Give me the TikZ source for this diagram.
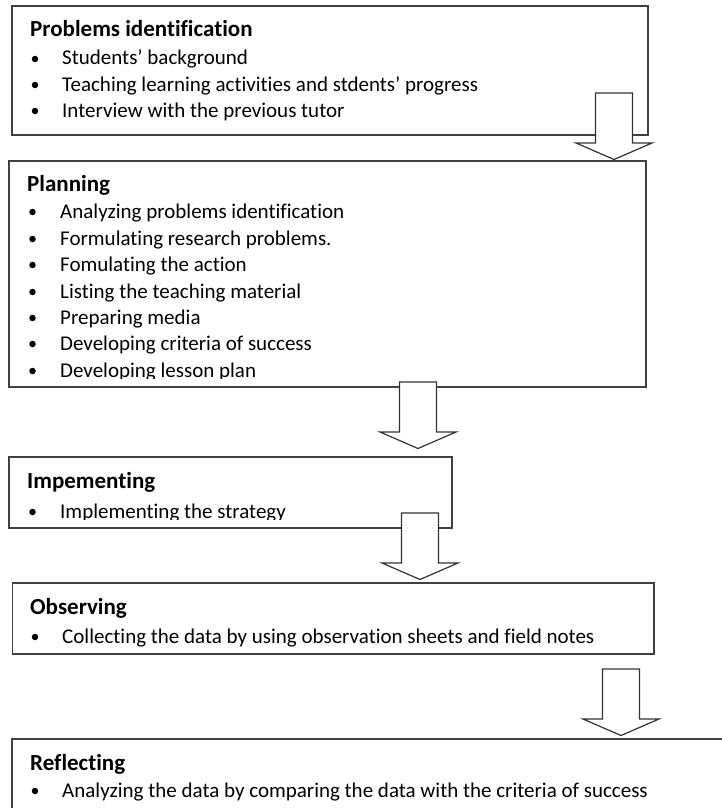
\documentclass[tikz,border=0pt]{standalone}
\usepackage{fontspec}
\setmainfont{Carlito}[Ligatures=NoCommon]
\tikzset{
  box/.style={draw=black!75, line width=1.2pt},
  ttl/.style={anchor=base west, inner sep=0pt, font=\fontsize{23}{28}\selectfont\bfseries},
  itm/.style={anchor=base west, inner sep=0pt, font=\fontsize{21}{26}\selectfont},
  dot/.style={circle, fill=black, inner sep=0pt, minimum size=6.5pt},
  arr/.style={draw=black!80, fill=white, line width=1.2pt, line join=miter},
}
\newcommand{\flowarrow}[1]{%
  \draw[arr] (#1) ++(-18.5,0) -- ++(0,50) -- ++(-19.5,0) -- ++(38,16.5)
    -- ++(38,-16.5) -- ++(-19.5,0) -- ++(0,-50) -- cycle;}
\begin{document}
\begin{tikzpicture}[x=1pt,y=-1pt]
\path[use as bounding box] (0,0) rectangle (722,808);
\clip (0,0) rectangle (722,808);

\draw [box] (12,6) rectangle (648,135);
\node[ttl] (prob) at (30,37) {Problems identification};
\node[dot] (prob1d) at (35,59) {};
\node[itm] (prob1) at (62,65) {Students’ background};
\node[dot] (prob2d) at (35,85) {};
\node[itm] (prob2) at (62,91) {Teaching learning activities and stdents’ progress};
\node[dot] (prob3d) at (35,111) {};
\node[itm] (prob3) at (62,117) {Interview with the previous tutor};

\draw [box] (9,161) rectangle (646,387);
\begin{scope}
\clip (9,161) rectangle (646,378);
\node[ttl] (plan) at (27,191) {Planning};
\node[dot] (plan1d) at (32.5,212) {};
\node[itm] (plan1) at (60,218) {Analyzing problems identification};
\node[dot] (plan2d) at (32.5,239) {};
\node[itm] (plan2) at (60,245) {Formulating research problems.};
\node[dot] (plan3d) at (32.5,265) {};
\node[itm] (plan3) at (60,271) {Fomulating the action};
\node[dot] (plan4d) at (32.5,292) {};
\node[itm] (plan4) at (60,298) {Listing the teaching material};
\node[dot] (plan5d) at (32.5,318) {};
\node[itm] (plan5) at (60,324) {Preparing media};
\node[dot] (plan6d) at (32.5,344) {};
\node[itm] (plan6) at (60,350) {Developing criteria of success};
\node[dot] (plan7d) at (32.5,371) {};
\node[itm] (plan7) at (60,377) {Developing lesson plan};
\end{scope}

\draw [box] (9,457) rectangle (452,528);
\begin{scope}
\clip (9,457) rectangle (452,519);
\node[ttl] (impl) at (27,488) {Impementing};
\node[dot] (impl1d) at (32.5,512) {};
\node[itm] (impl1) at (60,518) {Implementing the strategy};
\end{scope}

\draw [box] (12.7,583) rectangle (654,654);
\node[ttl] (obs) at (30,614.5) {Observing};
\node[dot] (obs1d) at (35,637) {};
\node[itm] (obs1) at (62,643) {Collecting the data by using observation sheets and field notes};

\draw [box] (12,739) rectangle (740,830);
\node[ttl] (refl) at (30,770) {Reflecting};
\node[dot] (refl1d) at (35,791) {};
\node[itm] (refl1) at (62,797) {Analyzing the data by comparing the data with the criteria of success};

\coordinate (a1) at (614,93);
\coordinate (a2) at (418,382);
\coordinate (a3) at (420,513);
\coordinate (a4) at (621,669);
\flowarrow{a1}
\flowarrow{a2}
\flowarrow{a3}
\flowarrow{a4}
\end{tikzpicture}
\end{document}
